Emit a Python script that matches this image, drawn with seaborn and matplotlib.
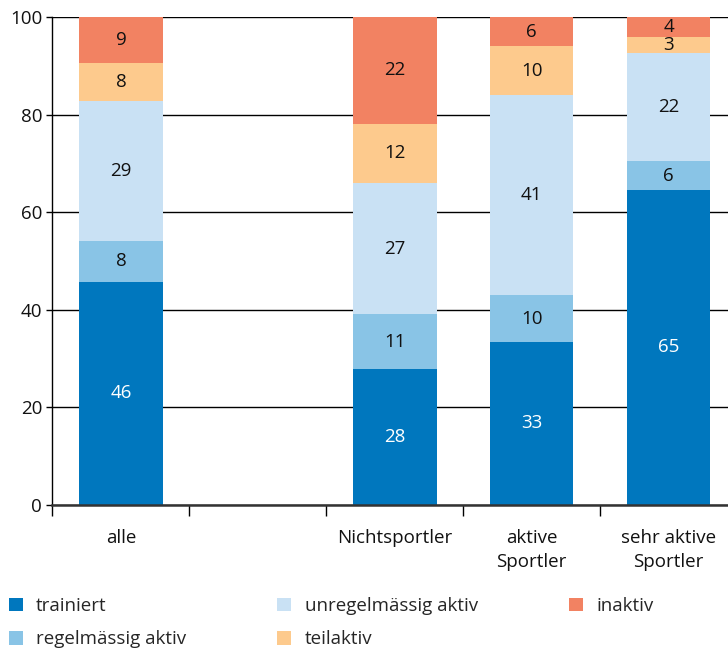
import numpy as np
import pandas as pd
import matplotlib.pyplot as plt
import seaborn as sns
from matplotlib.patches import Patch

sns.set_theme(style="white")
plt.rcParams['font.family'] = ['Open Sans', 'DejaVu Sans']

# ----------------------- data -----------------
groups = ["alle", " ", "Nichtsportler", "aktive\nSportler", "sehr aktive\nSportler"]
bar_groups = ["alle", "Nichtsportler", "aktive\nSportler", "sehr aktive\nSportler"]
levels = ["trainiert", "regelmässig aktiv", "unregelmässig aktiv", "teilaktiv", "inaktiv"]
colors = ["#0077be", "#89c4e6", "#c9e1f4", "#fdca8d", "#f28262"]

trainiert = [45.7, 27.9, 33.4, 64.6]
regelmaessig = [8.4, 11.2, 9.6, 5.8]
unregelmaessig = [28.7, 26.9, 41.0, 22.3]
teilaktiv = [7.8, 12.1, 10.0, 3.1]
inaktiv = [9.4, 21.9, 6.0, 4.2]

series = [trainiert, regelmaessig, unregelmaessig, teilaktiv, inaktiv]

FS = 13.5

# long table with cumulative tops for the overlay-style stacking
rows = []
for lvl, vals in zip(levels, series):
    for g, v in zip(bar_groups, vals):
        rows.append({'group': g, 'level': lvl, 'value': v})
df = pd.DataFrame(rows)
df['top'] = df.groupby('group')['value'].cumsum()
df['bottom'] = df['top'] - df['value']

# ----------------------- plot -----------------
fig = plt.figure(figsize=(7.28, 6.51), dpi=100)
ax = fig.add_axes([0.0721, 0.2243, 0.9279, 0.7496])

for lvl, col in reversed(list(zip(levels, colors))):
    sub = df[df['level'] == lvl]
    sns.barplot(data=sub, x='group', y='top', order=groups, color=col,
                saturation=1, width=0.61, linewidth=0, errorbar=None, ax=ax)

# segment labels
for _, r in df.iterrows():
    xi = groups.index(r['group'])
    txtcol = 'white' if r['level'] == 'trainiert' else '#111111'
    ax.text(xi, r['bottom'] + r['value'] / 2, str(round(r['value'])),
            ha='center', va='center', fontsize=FS, color=txtcol)

ax.set_ylim(0, 100)
ax.set_xlim(-0.5, 4.434)
ax.set_yticks(np.arange(0, 101, 20))
ax.yaxis.grid(True, color='black', lw=1)
ax.set_axisbelow(True)

ax.set_xticks(np.arange(len(groups)) - 0.5, [''] * len(groups))
ax.set_xticks(np.arange(len(groups)), groups, minor=True)
for t in ax.get_xticklabels(minor=True):
    t.set_linespacing(1.45)
ax.tick_params(axis='x', which='major', length=8, width=1, color='black', direction='out', bottom=True)
ax.tick_params(axis='x', which='minor', length=0, pad=17, labelsize=FS, colors='#111111')
ax.tick_params(axis='y', length=4, width=1, color='black', direction='out', left=True, pad=3.5, labelsize=FS, labelcolor='#111111')
ax.set_xlabel('')
ax.set_ylabel('')

sns.despine(ax=ax)
ax.spines['left'].set_color('black')
ax.spines['left'].set_linewidth(1)
ax.spines['bottom'].set_color('#333333')
ax.spines['bottom'].set_linewidth(1.8)

handles = [Patch(facecolor=c, edgecolor='none', label=l) for l, c in zip(levels, colors)]
fig.legend(handles=handles, loc='upper left', bbox_to_anchor=(0.012, 0.083), ncol=3,
           frameon=False, fontsize=FS, handlelength=0.75, handleheight=0.75,
           handletextpad=0.7, columnspacing=4.87, labelspacing=0.82,
           borderpad=0, borderaxespad=0)

fig.savefig('out.png', dpi=100)
